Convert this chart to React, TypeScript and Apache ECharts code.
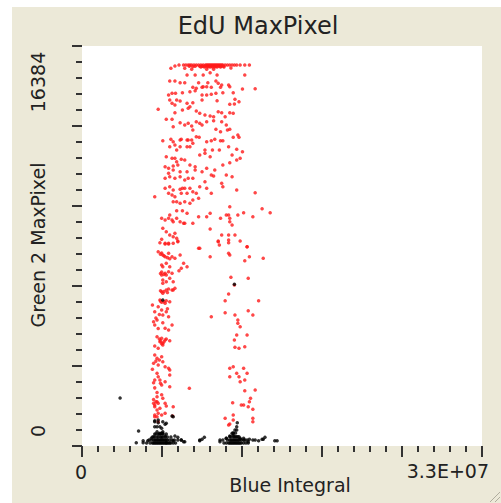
import React, { useEffect, useRef } from 'react';
import * as echarts from 'echarts';

const titleText = 'EdU MaxPixel';
const xAxisName = 'Blue Integral';
const yAxisName = 'Green 2 MaxPixel';
const xTickLabels = ['0', '3.3E+07'];
const yTickLabels = ['0', '16384'];
const xAxisMax = 34650000;
const yAxisMax = 17200;

// [Blue Integral (millions), Green 2 MaxPixel] — EdU positive (red)
const edUPositive: [number, number][] = [
  [8.4,16384],[8.8,16384],[9.0,16384],[9.2,16384],[9.35,16384],[9.5,16384],[9.7,16384],[9.9,16384],[10.1,16384],[10.3,16384],
  [10.5,16384],[10.7,16384],[10.8,16384],[10.9,16384],[11.0,16384],[11.1,16384],[11.2,16384],[11.3,16384],[11.4,16384],[11.5,16384],
  [11.6,16384],[11.7,16384],[11.8,16384],[11.9,16384],[12.0,16384],[12.1,16384],[12.2,16384],[12.4,16384],[12.6,16384],[12.8,16384],
  [13.0,16384],[13.2,16384],[13.4,16384],[13.7,16384],[14.1,16384],[14.5,16384],
  [10.2,16330],[10.45,16330],[10.65,16330],[10.85,16330],[11.05,16330],[11.25,16330],[11.45,16330],[11.65,16330],[11.85,16330],[12.05,16330],
  [12.25,16330],[9.3,16330],[9.8,16330],
  [10.3,16300],[10.6,16300],[10.9,16300],[11.1,16300],[11.3,16300],[11.5,16300],[11.7,16300],[12.0,16300],[12.3,16300],[9.6,16310],
  [8.05,16340],[10.4,16340],[7.7,16240],[8.9,16240],[9.5,16200],[10.8,16200],[11.4,16200],[12.9,16250],
  [9.1,15953],[9.8,15950],[10.5,15950],[11.1,16050],[11.7,15950],[14.1,15950],
  [7.6,15695],[8.05,15695],[8.5,15620],[8.9,15620],[10.1,15620],[10.5,15450],[10.9,15620],[11.6,15695],[11.8,15595],[12.1,15520],
  [12.7,15520],[12.8,15450],[9.6,15425],[9.9,15380],[10.4,15425],[10.8,15450],[11.2,15425],[12.0,15425],[15.0,15365],[13.9,15350],
  [7.8,15166],[7.5,15093],[8.1,15166],[8.7,15192],[9.35,15235],[9.8,15278],[10.4,15093],[10.8,15093],[11.2,15123],[11.6,15166],
  [12.2,15192],[13.1,15192],
  [7.6,14878],[8.2,14878],[8.5,14835],[9.1,14736],[9.6,14762],[10.4,14878],[11.7,14848],[13.25,14908],[12.8,14693],[13.2,14706],[13.6,14805],
  [6.6,14478],[8.05,14663],[7.8,14736],[8.05,14332],[8.7,14448],[9.2,14521],[9.35,14590],[9.9,14405],[10.2,14306],[10.65,14233],
  [11.1,14190],[11.4,14160],[11.8,14375],[12.1,14332],[12.4,14160],[12.8,14332],[13.1,14306],
  [7.3,14048],[7.8,14048],[7.9,13730],[8.5,13902],[8.9,13803],[9.2,13876],[9.5,13760],[9.6,13588],[9.9,13945],[10.2,13876],
  [10.4,13803],[10.8,13945],[11.4,13988],[12.1,13945],[12.5,13803],[12.6,13588],[12.8,13617],[13.5,13373],[13.6,13273],[12.0,13515],[11.6,13617],
  [7.0,13128],[7.7,13188],[7.9,13085],[8.5,13158],[8.6,13188],[9.1,13158],[9.2,13158],[9.5,13158],[9.9,13300],[10.15,13273],
  [10.8,13085],[11.2,13128],[11.5,13188],[12.0,13128],[12.2,13128],[13.1,13273],
  [7.6,12870],[8.05,12943],[8.2,12728],[9.1,12870],[8.5,12870],[9.35,12870],[9.6,13016],[10.65,12728],[11.3,12728],[11.9,12728],
  [12.7,12870],[13.4,12757],[13.9,12655],
  [7.3,12440],[7.8,12370],[8.05,12370],[8.2,12225],[8.6,12327],[8.9,12298],[9.35,12083],[9.8,12010],[10.2,12513],[10.65,12585],
  [12.8,12182],[13.0,12513],[13.4,12298],[13.7,12370],[11.1,12440],
  [7.2,12010],[7.5,11940],[7.9,12040],[8.3,12083],[7.5,11726],[7.9,11868],[8.5,11795],[9.1,11795],[9.8,11868],[10.4,11795],
  [10.8,11940],[11.5,11868],[12.2,12083],[12.5,11653],[13.0,11580],[11.2,11653],[11.4,11610],
  [7.2,11511],[7.6,11580],[8.05,11511],[8.5,11580],[8.9,11438],[9.2,11511],[9.6,11511],[10.65,11365],[12.1,11296],
  [7.2,11081],[7.6,11150],[7.9,11008],[8.5,11038],[8.7,11081],[8.9,11081],[9.35,11081],[9.6,10935],[10.2,11150],[10.8,11081],
  [12.2,11150],[13.4,11008],[15.0,10892],
  [6.3,10720],[7.5,10866],[7.8,10793],[8.05,10720],[8.6,10866],[9.1,10866],[9.9,10866],[11.2,10866],
  [7.9,10505],[8.2,10505],[8.5,10436],[8.9,10505],[9.35,10436],[9.6,10578],[10.1,10651],[12.8,10290],[15.6,10204],
  [8.2,10118],[8.7,10118],[9.1,10006],[10.1,9860],[10.8,9860],[11.1,10006],[12.0,9791],[12.5,9933],[12.7,9933],[12.8,9791],
  [13.5,9933],[14.0,10032],[14.8,9860],[16.3,10032],
  [6.9,9791],[7.2,9718],[7.5,9791],[7.6,9933],[7.8,9718],[7.9,9645],[8.2,9791],[8.5,9645],[8.8,9576],[8.9,9576],
  [9.6,9576],[12.8,9645],[13.0,9503],
  [7.0,9361],[7.3,9215],[7.6,9073],[7.9,9000],[8.05,9146],[8.2,8931],[8.3,8785],[11.1,9331],[12.1,9073],[12.7,9073],[13.25,9073],
  [6.9,8888],[7.2,8716],[7.5,8716],[10.1,8501],[11.8,8785],[12.7,8858],[14.3,8570],
  [6.75,8742],[7.2,8686],[7.5,8686],[7.9,8716],[8.3,8815],[10.2,8501],[11.8,8815],[11.9,8643],[12.7,8742],[13.7,8815],[14.3,8570],
  [6.6,8355],[7.0,8213],[7.2,8140],[7.5,8286],[7.8,8140],[8.05,8071],[8.5,8213],[8.8,7856],[9.1,7710],[8.6,7641],[8.4,7538],
  [11.1,8140],[12.7,8286],[12.8,8213],[14.1,7968],[14.5,8140],[15.7,8071],
  [6.9,7783],[7.0,7710],[7.3,7856],[7.6,7710],[7.5,7495],[7.8,7426],[7.2,7426],[6.9,7353],[7.0,7138],[7.3,7065],[7.0,6996],
  [7.6,7211],[7.9,7065],[12.9,7254],[13.2,6923],[14.4,7211],
  [6.9,6635],[7.0,6566],[7.3,6708],[7.8,6708],[7.9,6708],[8.05,6781],[6.75,6278],[7.1,6205],[7.2,6136],[6.1,6063],[6.6,5990],[7.6,6205],
  [12.7,6536],[12.4,6248],[15.3,6248],[14.4,5818],[14.8,5633],[12.4,5732],
  [6.3,5775],[6.9,5848],[7.3,5775],[7.0,5633],[6.5,5418],[6.2,5345],[7.5,5560],[7.8,5203],[7.5,4988],[7.2,5061],
  [11.2,5560],[13.25,5633],[13.5,5418],[13.5,5276],[13.7,5130],[13.4,4773],[14.3,4773],[13.2,4558],[13.25,4244],[13.6,4201],[14.1,4270],
  [6.5,4700],[6.9,4631],[6.75,4485],[7.0,4416],[7.0,4343],[7.2,4558],[7.6,4528],[6.3,4300],[6.6,4201],[6.3,3913],[6.5,3771],
  [6.2,3556],[6.9,3840],[7.0,3625],[6.6,3483],[7.2,3410],[7.5,3341],[7.6,3268],
  [6.5,3126],[6.6,2980],[6.3,2838],[6.2,2722],[6.75,2838],[6.9,2623],[7.2,2765],[7.6,2550],[7.6,3053],[9.3,2481],
  [12.8,3341],[13.1,3410],[13.4,3126],[13.6,2980],[13.7,2765],[14.0,3341],[14.3,3126],[14.1,2838],[12.8,2980],[14.1,2378],[15.0,2408],
  [6.5,2120],[6.3,1763],[6.6,1836],[6.75,1621],[6.5,1548],[7.0,2051],[7.9,1690],
  [13.05,1862],[13.8,1763],[14.5,1905],[14.8,1578],[14.6,2051],
  [6.3,1260],[6.9,1333],[7.2,1406],[12.4,1191],[12.8,946],[14.8,1191],[13.1,1118],
  [6.2,1836],[6.5,1905],[6.3,1690],[7.2,1836],[7.3,1720],[6.3,1333],[6.5,1260],[6.6,1406],[7.85,1290],
  [14.0,1763],[14.4,1690],[13.1,1333],[12.7,903],[6.6,1045],[14.8,1045],
  [6.8,8250],[6.9,8300],[7.1,8180],[7.4,8100],[7.6,8050],[6.8,7420],[6.9,7480],[7.1,7380],[7.3,7350],
  [6.8,6680],[7.1,6640],[7.4,6600],[7.5,6750],[6.8,6230],[6.9,6180],[7.3,6250],
  [6.7,4600],[6.8,4520],[7.1,4480],[7.3,4600],[6.9,4400],[6.4,5500],[6.7,5650],[7.4,5900],[6.3,5200],[6.6,5050],[7.0,5300],
  [6.4,3650],[6.7,3700],[6.1,3300],[6.3,2500],[6.5,2300],[6.8,2700],[6.2,2000],[6.4,1900],[6.9,2200],
];

// [Blue Integral (millions), Green 2 MaxPixel] — EdU negative (black)
const edUNegative: [number, number][] = [
  [6.3,1088],[6.6,1002],[6.75,830],[6.3,830],[6.5,615],[6.9,546],[7.0,546],[6.7,516],[6.3,516],[6.2,400],[7.2,430],
  [6.6,1118],[6.3,1045],[6.5,830],[6.9,761],[7.0,1045],[7.2,933],[7.3,976],[6.75,546],[7.0,615],[7.9,1260],[7.8,1290],
  [7.0,6278],[13.2,6953],[3.3,2064],
  [5.6,130],[5.9,130],[6.1,130],[6.2,130],[6.3,130],[6.4,130],[6.5,130],[6.6,130],[6.7,130],[6.8,130],[6.9,130],
  [7.0,130],[7.1,130],[7.2,130],[7.3,130],[7.4,130],[7.5,130],[7.6,130],[7.7,130],[7.9,130],[8.1,130],
  [5.8,260],[6.0,260],[6.2,260],[6.3,260],[6.4,260],[6.5,260],[6.6,260],[6.7,260],[6.8,260],[6.9,260],
  [7.0,260],[7.1,260],[7.2,260],[7.3,260],[7.4,260],[7.6,260],[7.8,260],[8.0,260],[8.3,260],
  [6.1,390],[6.3,390],[6.5,390],[6.6,390],[6.8,390],[6.9,390],[7.0,390],[7.2,390],[7.4,390],[7.7,390],
  [6.4,520],[6.6,520],[6.8,520],[7.0,520],[7.3,520],
  [4.9,645],[4.7,140],[5.3,140],[5.7,230],[6.0,330],[7.3,140],[7.9,230],[8.05,430],[8.3,374],[8.6,258],[8.9,185],
  [10.2,258],[10.6,374],[5.3,230],[8.6,258],[8.8,185],[10.2,230],[10.4,288],
  [11.95,185],[12.2,258],[12.5,330],[12.8,430],[13.1,546],[13.4,688],[13.7,330],[14.1,258],[14.4,185],[14.8,258],
  [15.3,230],[15.6,290],[16.7,230],
  [13.4,830],[13.45,1002],[13.25,688],[13.1,473],[13.0,546],[12.8,400],[13.5,400],[13.7,288],[14.0,330],[14.3,258],
  [14.5,288],[15.0,258],[15.7,288],[15.85,374],[16.9,230],[11.95,258],[12.5,330],
  [12.3,130],[12.5,130],[12.7,130],[12.8,130],[12.9,130],[13.0,130],[13.1,130],[13.2,130],[13.3,130],[13.4,130],
  [13.5,130],[13.6,130],[13.7,130],[13.8,130],[14.0,130],[14.2,130],[14.4,130],
  [12.6,260],[12.8,260],[12.9,260],[13.0,260],[13.1,260],[13.2,260],[13.3,260],[13.4,260],[13.5,260],[13.6,260],[13.8,260],[14.0,260],
  [12.9,400],[13.1,400],[13.2,400],[13.3,400],[13.4,400],[13.6,400],[13.1,560],[13.3,560],
];

const FONT = 'DejaVu Sans';
const BEIGE = '#ECE9D8';
const INK = '#222222';

export default function App() {
  const ref = useRef<HTMLDivElement>(null);
  useEffect(() => {
    const el = ref.current!;
    const chart = echarts.init(el, null, { renderer: 'svg' });
    const tickStyle = { color: '#333333', width: 2 };
    chart.setOption({
      animation: false,
      backgroundColor: BEIGE,
      grid: {
        left: 82, top: 46, width: 400, height: 400,
        show: true, backgroundColor: '#ffffff', borderWidth: 0,
      },
      xAxis: {
        type: 'value', min: 0, max: xAxisMax, interval: xAxisMax / 5,
        axisLine: { show: false },
        axisTick: { show: true, length: 11, lineStyle: tickStyle },
        minorTick: { show: true, splitNumber: 5, length: 6, lineStyle: tickStyle },
        axisLabel: { show: false },
        splitLine: { show: false },
      },
      yAxis: {
        type: 'value', min: 0, max: yAxisMax, interval: yAxisMax / 5,
        axisLine: { show: false },
        axisTick: { show: true, length: 10, lineStyle: tickStyle },
        minorTick: { show: true, splitNumber: 5, length: 6, lineStyle: tickStyle },
        axisLabel: { show: false },
        splitLine: { show: false },
      },
      series: [
        {
          type: 'scatter', symbol: 'circle', symbolSize: 3.5,
          itemStyle: { color: '#ff1a1a' },
          data: edUPositive.map(([x, y]) => [x * 1e6, y]),
        },
        {
          type: 'scatter', symbol: 'circle', symbolSize: 3.5,
          itemStyle: { color: '#000000' },
          data: edUNegative.map(([x, y]) => [x * 1e6, y]),
        },
      ],
    });
    const [x0, y0] = chart.convertToPixel({ gridIndex: 0 }, [0, 0]) as number[];
    const [x1, y1] = chart.convertToPixel({ gridIndex: 0 }, [xAxisMax, yAxisMax]) as number[];
    const txt = (text: string, x: number, y: number, size: number, align: string, rot = 0) => ({
      type: 'text', x, y, rotation: rot, silent: true,
      style: { text, fontFamily: FONT, fontSize: size, fill: INK, align, verticalAlign: 'middle' },
    });
    chart.setOption({
      graphic: [
        { type: 'rect', shape: { x: 0, y: 0, width: 501, height: 7 }, style: { fill: '#ffffff' }, silent: true },
        { type: 'rect', shape: { x: 0, y: 0, width: 12, height: 503 }, style: { fill: '#ffffff' }, silent: true },
        txt(titleText, 258, 25.5, 24, 'center'),
        txt(xAxisName, (x0 + x1) / 2 + 8, y0 + 39, 19, 'center'),
        txt(yAxisName, 38, (y0 + y1) / 2 - 1, 19, 'center', Math.PI / 2),
        txt(xTickLabels[0], x0 - 1, y0 + 26, 19, 'center'),
        txt(xTickLabels[1], x1 + 7, y0 + 25, 19, 'right'),
        txt(yTickLabels[0], 38, y0 - 15, 19, 'center', Math.PI / 2),
        txt(yTickLabels[1], 38, y1 + 36, 19, 'center', Math.PI / 2),
        { type: 'line', shape: { x1: 490, y1: 502, x2: 500, y2: 492 }, style: { stroke: '#b0ad9e', lineWidth: 1 }, silent: true },
        { type: 'line', shape: { x1: 495, y1: 502, x2: 500, y2: 497 }, style: { stroke: '#b0ad9e', lineWidth: 1 }, silent: true },
      ],
    });
    return () => chart.dispose();
  }, []);
  return (
    <div
      ref={ref}
      style={{ position: 'fixed', left: 0, top: 0, width: 501, height: 503 }}
    />
  );
}
